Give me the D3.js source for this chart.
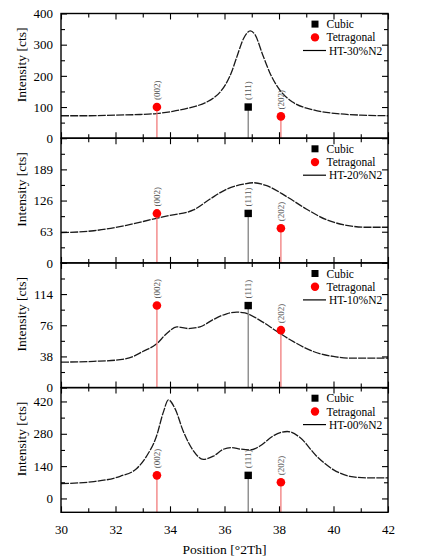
<!DOCTYPE html>
<html>
<head>
<meta charset="utf-8">
<script src="https://cdn.jsdelivr.net/npm/d3@7"></script>
<style>
  body { margin: 0; background: #fff; }
  text { font-family: "Liberation Serif", "Times New Roman", serif; }
</style>
</head>
<body>
<div id="my_dataviz"></div>
<script>
// Sample names, top panel first
const samples = ['HT-30%N2', 'HT-20%N2', 'HT-10%N2', 'HT-00%N2'];

// Scans: [position °2Th, intensity cts]
const ht30 = [[30,72],[31,72],[32,74],[32.9,76],[33.5,79],[34.1,86],[34.7,97],[35.0,104],[35.35,116],[35.6,129],
  [35.85,149],[36.05,174],[36.25,210],[36.45,260],[36.7,320],[36.95,344],[37.12,332],[37.4,268],[37.7,203],
  [38.04,153],[38.5,116],[39.26,91],[40.24,78],[41,74],[42,72]];
const ht20 = [[30,61],[31.2,65],[32.4,76],[33.5,90],[34,96],[34.86,107],[35.47,129],[36.08,149],[36.69,159],
  [37.06,162],[37.55,156],[38.28,134],[39,109],[39.75,87],[40.48,76],[41.2,72],[42,72]];
const ht10 = [[30,31],[31.2,32],[32.17,34],[32.66,38],[33,44],[33.5,53],[33.88,66],[34.25,74],[34.67,72],[35.1,74],
  [35.59,83],[36.08,90],[36.45,92],[36.75,91],[37.3,82],[37.9,69],[38.53,56],[39.26,44],[39.99,38],[40.6,36],[42,36]];
const ht00 = [[30,64],[31.2,73],[32.17,96],[32.78,130],[33.14,183],[33.5,268],[33.76,375],[33.94,427],[34.18,390],
  [34.49,290],[34.86,206],[35.22,169],[35.59,183],[35.96,213],[36.26,220],[36.57,214],[36.94,210],[37.3,227],
  [37.79,271],[38.3,290],[38.77,264],[39.38,183],[39.99,125],[40.6,96],[41.2,89],[42,89]];
const scans = [ht30, ht20, ht10, ht00];

// y axis of each panel
const yDomains = [[0, 400], [0, 252], [0, 152], [-60, 480]];
const yTickValues = [[0, 100, 200, 300, 400], [0, 63, 126, 189], [0, 38, 76, 114], [0, 140, 280, 420]];
const xTickValues = [30, 32, 34, 36, 38, 40, 42];

// Reference peaks (same in every panel)
const refPhases = ['Tetragonal', 'Cubic', 'Tetragonal'];
const refLabels = ['(002)', '(111)', '(202)'];
const refPositions = [33.52, 36.87, 38.07];
const refIntensities = [100, 100, 70];

const W = 429, H = 559;
const plotLeft = 61, plotRight = 388, plotTop = 13.5, panelH = 124.7;

const svg = d3.select('#my_dataviz').append('svg')
  .attr('width', W)
  .attr('height', H);

const x = d3.scaleLinear().domain([30, 42]).range([plotLeft, plotRight]);
const minorX = d3.range(31, 42, 2);

const line = d3.line().curve(d3.curveMonotoneX);

samples.forEach((name, i) => {
  const y0 = plotTop + i * panelH;
  const y = d3.scaleLinear().domain(yDomains[i]).range([y0 + panelH, y0]);
  const g = svg.append('g');

  const ticks = yTickValues[i];
  const step = ticks[1] - ticks[0];
  const minorY = ticks.map(t => t + step / 2).filter(t => t < yDomains[i][1]);

  // clip for curve
  g.append('clipPath').attr('id', 'clip' + i)
    .append('rect').attr('x', plotLeft).attr('y', y0).attr('width', plotRight - plotLeft).attr('height', panelH);

  // curve
  g.append('path')
    .datum(scans[i].map(d => [x(d[0]), y(d[1])]))
    .attr('d', line)
    .attr('clip-path', `url(#clip${i})`)
    .style('fill', 'none')
    .style('stroke', '#1a1a1a')
    .style('stroke-width', 1.3)
    .style('stroke-dasharray', '8,1.2');

  // reference drop lines + markers
  refPositions.forEach((p, k) => {
    const cubic = refPhases[k] === 'Cubic';
    g.append('line')
      .attr('x1', x(p)).attr('x2', x(p))
      .attr('y1', y(refIntensities[k])).attr('y2', y0 + panelH)
      .style('stroke', cubic ? '#777' : '#f07070')
      .style('stroke-width', 1.2);
    if (cubic) {
      g.append('rect')
        .attr('x', x(p) - 3.7).attr('y', y(refIntensities[k]) - 3.7)
        .attr('width', 7.4).attr('height', 7.4)
        .style('fill', '#000');
    } else {
      g.append('circle')
        .attr('cx', x(p)).attr('cy', y(refIntensities[k])).attr('r', 4.3)
        .style('fill', '#f00');
    }
    g.append('text')
      .attr('transform', `translate(${x(p)},${y(refIntensities[k]) - 7}) rotate(-90)`)
      .attr('dy', '0.33em')
      .style('font-size', '9px')
      .style('fill', '#555')
      .text(refLabels[k]);
  });

  // axes with inward ticks
  g.append('g').attr('transform', `translate(${plotLeft},0)`)
    .call(d3.axisLeft(y).tickValues(ticks).tickSize(-6).tickPadding(8))
    .call(a => a.select('.domain').remove())
    .selectAll('text').style('font-size', '13px').style('font-family', '"Liberation Serif", serif');
  g.append('g').attr('transform', `translate(${plotLeft},0)`)
    .call(d3.axisLeft(y).tickValues(minorY).tickSize(-4).tickFormat(''))
    .call(a => a.select('.domain').remove());
  g.append('g').attr('transform', `translate(${plotRight},0)`)
    .call(d3.axisRight(y).tickValues(ticks).tickSize(-6).tickFormat(''))
    .call(a => a.select('.domain').remove());
  g.append('g').attr('transform', `translate(${plotRight},0)`)
    .call(d3.axisRight(y).tickValues(minorY).tickSize(-4).tickFormat(''))
    .call(a => a.select('.domain').remove());

  const bottomAxis = g.append('g').attr('transform', `translate(0,${y0 + panelH})`)
    .call(d3.axisBottom(x).tickValues(xTickValues).tickSize(-6).tickPadding(12)
      .tickFormat(i === samples.length - 1 ? d3.format('d') : ''))
    .call(a => a.select('.domain').remove());
  bottomAxis.selectAll('text').style('font-size', '13px').style('font-family', '"Liberation Serif", serif');
  g.append('g').attr('transform', `translate(0,${y0 + panelH})`)
    .call(d3.axisBottom(x).tickValues(minorX).tickSize(-4).tickFormat(''))
    .call(a => a.select('.domain').remove());
  g.append('g').attr('transform', `translate(0,${y0})`)
    .call(d3.axisTop(x).tickValues(xTickValues).tickSize(-6).tickFormat(''))
    .call(a => a.select('.domain').remove());
  g.append('g').attr('transform', `translate(0,${y0})`)
    .call(d3.axisTop(x).tickValues(minorX).tickSize(-4).tickFormat(''))
    .call(a => a.select('.domain').remove());
  g.selectAll('.tick line').style('stroke', '#000').style('stroke-width', 1.1);

  // frame
  g.append('rect')
    .attr('x', plotLeft).attr('y', y0).attr('width', plotRight - plotLeft).attr('height', panelH)
    .style('fill', 'none').style('stroke', '#000').style('stroke-width', 1.4);

  // y title
  g.append('text')
    .attr('transform', `translate(21,${y0 + panelH / 2 - 11}) rotate(-90)`)
    .attr('text-anchor', 'middle')
    .attr('dy', '0.35em')
    .style('font-size', '13.5px')
    .text('Intensity [cts]');

  // legend
  const lg = g.append('g').attr('transform', `translate(0,${y0})`);
  lg.append('rect').attr('x', 311.5).attr('y', 10.6 - 3.5).attr('width', 7).attr('height', 7).style('fill', '#000');
  lg.append('text').attr('x', 326.5).attr('y', 10.6).attr('dy', '0.35em').style('font-size', '11.5px').text('Cubic');
  lg.append('circle').attr('cx', 315).attr('cy', 23.9).attr('r', 4.2).style('fill', '#f00');
  lg.append('text').attr('x', 326.5).attr('y', 23.9).attr('dy', '0.35em').style('font-size', '11.5px').text('Tetragonal');
  lg.append('line').attr('x1', 303).attr('x2', 326).attr('y1', 37).attr('y2', 37)
    .style('stroke', '#000').style('stroke-width', 1.2);
  lg.append('text').attr('x', 329).attr('y', 37).attr('dy', '0.35em').style('font-size', '11.5px').text(name);
});

// x title
svg.append('text')
  .attr('x', (plotLeft + plotRight) / 2)
  .attr('y', 549)
  .attr('dy', '0.35em')
  .attr('text-anchor', 'middle')
  .style('font-size', '13.5px')
  .text('Position [°2Th]');
</script>
</body>
</html>
